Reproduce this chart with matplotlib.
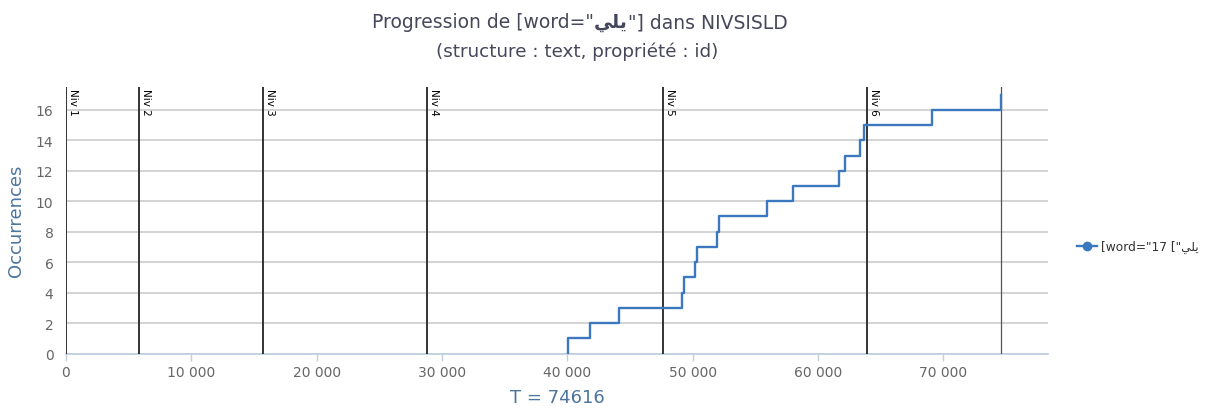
import matplotlib
matplotlib.use("Agg")
import matplotlib.pyplot as plt
import numpy as np
from matplotlib.ticker import FuncFormatter

# ---------------- data ----------------
arabic_word = "\uFEF2\uFEE0\uFEF3"  # يلي (visual order, presentation forms)
T_total = 74616
occ_positions = [40080, 41810, 44120, 49126, 49310, 50187, 50371, 51919, 52079,
                 55909, 57983, 61653, 62156, 63377, 63648, 69121, 74600]
niv_positions = [0, 5825, 15743, 28828, 47610, 63888]
niv_labels = ["Niv 1", "Niv 2", "Niv 3", "Niv 4", "Niv 5", "Niv 6"]
x_ticks = [0, 10000, 20000, 30000, 40000, 50000, 60000, 70000]
y_ticks = [0, 2, 4, 6, 8, 10, 12, 14, 16]
series_label = '[word="17 ["' + arabic_word

# ---------------- figure ----------------
plt.rcParams['font.family'] = ['DejaVu Sans']
W, H = 1219, 410
fig = plt.figure(figsize=(W / 100, H / 100), dpi=100)
left, right, bottom, top = 66, 1048, 354.5, 88
ax = fig.add_axes([left / W, (H - bottom) / H, (right - left) / W, (bottom - top) / H])

line_color = '#3b78bf'
xs = np.r_[occ_positions[0], occ_positions]
ys = np.arange(0, len(occ_positions) + 1)
ax.step(xs, ys, where='post', color=line_color, lw=1.7, zorder=4)

# legend proxy
ax.plot([], [], color=line_color, lw=1.7, marker='o', markersize=6, label=series_label)

for xp, lab in zip(niv_positions, niv_labels):
    ax.axvline(xp, color='#333333', lw=1.4, zorder=3)
    ax.annotate(lab, xy=(xp, 1), xycoords=('data', 'axes fraction'),
                xytext=(1.5, -1), textcoords='offset points', rotation=-90,
                ha='left', va='top', fontsize=7.5, color='black', zorder=5)
ax.axvline(T_total, color='#555555', lw=0.9, zorder=3)

ax.set_xlim(0, 78350)
ax.set_ylim(0, 17.5)
ax.set_xticks(x_ticks)
ax.set_yticks(y_ticks)
ax.xaxis.set_major_formatter(FuncFormatter(lambda v, p: f"{int(v):,}".replace(',', ' ')))
ax.grid(axis='y', color='#c8c8c8', lw=1.1, zorder=1)
ax.set_axisbelow(True)
for s in ['top', 'right', 'left']:
    ax.spines[s].set_visible(False)
ax.spines['bottom'].set_color('#c0d0e0')
ax.spines['bottom'].set_linewidth(1.3)
ax.tick_params(axis='x', colors='#c0d0e0', length=5, width=1, labelcolor='#666666',
               labelsize=10, pad=3)
ax.tick_params(axis='y', length=0, labelcolor='#666666', labelsize=10, pad=9)

ax.set_ylabel('Occurrences', color='#4d759e', fontsize=13, labelpad=8)
ax.set_xlabel('T = 74616', color='#4d759e', fontsize=13, labelpad=7)

leg = ax.legend(loc='center left', bbox_to_anchor=(1.021, 0.40), frameon=False,
                fontsize=8.8, handlelength=1.6, handletextpad=0.35, borderpad=0.2)
for t in leg.get_texts():
    t.set_color('#333333')

# title (mixed weights)
title_color = '#45475a'
t1 = fig.text(372 / W, 1 - 23 / H, 'Progression de [word="', fontsize=13.5,
              color=title_color, ha='left', va='center')
t2 = ax.annotate(arabic_word, xy=(1, 0), xycoords=t1, va='bottom', ha='left',
                 fontsize=13.5, fontweight='bold', color=title_color)
t3 = ax.annotate('"] dans NIVSISLD', xy=(1, 0), xycoords=t2, va='bottom', ha='left',
                 fontsize=13.5, color=title_color)
fig.text(436 / W, 1 - 52 / H, '(structure : text, propriété : id)', fontsize=13.2,
         color=title_color, ha='left', va='center')

fig.savefig('out.png', dpi=100)
